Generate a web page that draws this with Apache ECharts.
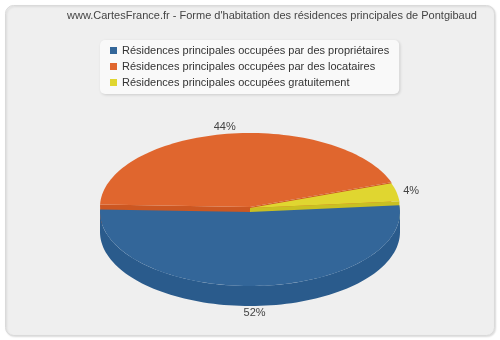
<!DOCTYPE html>
<html>
<head>
<meta charset="utf-8">
<script src="https://cdn.jsdelivr.net/npm/echarts@6/dist/echarts.min.js"></script>
<style>
html, body { margin: 0; padding: 0; background: #fff; }
#chart { width: 500px; height: 340px; }
</style>
</head>
<body>
<div id="chart"></div>
<script>
// données
var categories = [
	'Résidences principales occupées par des propriétaires',
	'Résidences principales occupées par des locataires',
	'Résidences principales occupées gratuitement'
];
var values = [52, 44, 4];

// styles
var topColors = ['#336699', '#e0662e', '#e0d630'];
var sideColors = ['#2a5b8c', '#cc5722', '#c9c022'];
var lift = [0, 5, 4]; // parts décollées vers l'arrière

// géométrie du camembert 3D
var cx = 250, cy = 212, rx = 150, ry = 74, depth = 20;
var startAngle = 365.2; // sens horaire
var fontName = 'Liberation Sans';

var total = 0;
for (var i = 0; i < values.length; i++) total += values[i];

function pt(a, oy, dy) {
	var r = a * Math.PI / 180;
	return [cx + rx * Math.cos(r), cy + oy - ry * Math.sin(r) + dy];
}
function arc(a0, a1, oy, dy) {
	var pts = [];
	var n = Math.max(2, Math.ceil((a1 - a0) / 2));
	for (var k = 0; k <= n; k++) pts.push(pt(a0 + (a1 - a0) * k / n, oy, dy));
	return pts;
}

// a0 < a1 (angles en degrés, sens trigo)
function makeRender(idx, a0, a1) {
	return function(params, api) {
		var oy = -lift[idx];
		var children = [];
		var c = [cx, cy + oy];
		var cd = [cx, cy + oy + depth];
		// faces radiales
		if (Math.sin((a0 - 90) * Math.PI / 180) < 0) {
			var p = pt(a0, oy, 0), pd = pt(a0, oy, depth);
			children.push({ type: 'polygon', shape: { points: [c, p, pd, cd] },
				style: { fill: sideColors[idx] } });
		}
		if (Math.sin((a1 + 90) * Math.PI / 180) < 0) {
			var q = pt(a1, oy, 0), qd = pt(a1, oy, depth);
			children.push({ type: 'polygon', shape: { points: [c, q, qd, cd] },
				style: { fill: sideColors[idx] } });
		}
		// paroi avant
		for (var k = -360; k <= 360; k += 360) {
			var lo = Math.max(a0, 180 + k), hi = Math.min(a1, 360 + k);
			if (hi > lo) {
				var top = arc(lo, hi, oy, 0);
				var bot = arc(lo, hi, oy, depth).reverse();
				children.push({ type: 'polygon', shape: { points: top.concat(bot) },
					style: { fill: sideColors[idx] } });
			}
		}
		// dessus
		children.push({ type: 'polygon', shape: { points: [c].concat(arc(a0, a1, oy, 0)) },
			style: { fill: topColors[idx] } });
		// étiquette
		var m = (a0 + a1) / 2 * Math.PI / 180;
		var lx = cx + (rx + 15) * Math.cos(m);
		var ly = cy + oy - (ry + 7) * Math.sin(m) + (Math.sin(m) < 0 ? depth : 0);
		children.push({ type: 'text', style: {
			text: Math.round(api.value(0) / total * 100) + '%',
			x: lx, y: ly, fill: '#444', font: '11px "' + fontName + '"',
			align: 'center', verticalAlign: 'middle' } });
		return { type: 'group', children: children };
	};
}

var series = [];
var acc = 0;
for (var i = 0; i < values.length; i++) {
	var a1 = startAngle - acc / total * 360;
	var a0 = a1 - values[i] / total * 360;
	acc += values[i];
	var mid = (a0 + a1) / 2 * Math.PI / 180;
	series.push({
		type: 'custom',
		name: categories[i],
		coordinateSystem: 'none',
		data: [values[i]],
		itemStyle: { color: topColors[i] },
		z: 5 - Math.sin(mid) * 2,
		silent: true,
		renderItem: makeRender(i, a0, a1)
	});
}

var myChart = echarts.init(document.getElementById('chart'));
var options = {
	animation: false,
	graphic: [{
		type: 'rect',
		shape: { x: 5.5, y: 5.5, width: 489, height: 330, r: 8 },
		style: { fill: '#efefef', stroke: '#dadada', lineWidth: 1,
			shadowColor: 'rgba(0,0,0,0.12)', shadowBlur: 2, shadowOffsetX: 1, shadowOffsetY: 1 },
		z: -10
	}],
	title: {
		text: "www.CartesFrance.fr - Forme d'habitation des résidences principales de Pontgibaud",
		left: 62,
		top: 5,
		textStyle: { fontSize: 11, fontWeight: 'normal', color: '#444', fontFamily: fontName }
	},
	legend: {
		data: categories,
		orient: 'vertical',
		left: 100,
		top: 40,
		icon: 'rect',
		itemWidth: 7,
		itemHeight: 7,
		itemGap: 5,
		padding: [5, 10, 6, 10],
		backgroundColor: '#f9f9f9',
		borderRadius: 5,
		shadowColor: 'rgba(0,0,0,0.15)',
		shadowBlur: 3,
		shadowOffsetX: 1,
		shadowOffsetY: 1,
		selectedMode: false,
		textStyle: { fontSize: 11, color: '#333', fontFamily: fontName }
	},
	series: series
};
myChart.setOption(options);
</script>
</body>
</html>
